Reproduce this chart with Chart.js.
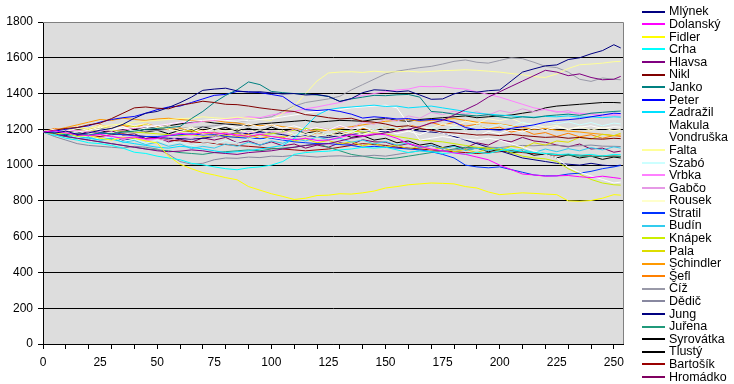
<!DOCTYPE html>
<html><head><meta charset="utf-8">
<script src="https://cdn.jsdelivr.net/npm/chart.js@4/dist/chart.umd.min.js"></script>
<style>
html,body{margin:0;padding:0;background:#fff;}
#wrap{position:relative;width:734px;height:384px;}
#legend{position:absolute;left:642px;top:5.4px;font-family:"Liberation Sans",Arial,sans-serif;font-size:12.5px;color:#000;}
.row{display:flex;align-items:center;height:12.6px;line-height:12.6px;white-space:nowrap;}
.sw{width:23px;height:2px;margin-right:4px;}
</style></head><body>
<div id="wrap"><canvas id="c" width="734" height="384"></canvas><div id="legend"></div></div>
<script>
const xs = [0,5,10,15,20,25,30,35,40,45,50,55,60,65,70,75,80,85,90,95,100,105,110,115,120,125,130,135,140,145,150,155,160,165,170,175,180,185,190,195,200,205,210,215,220,225,230,235,240,245,250,253];
const yTicks = [0,200,400,600,800,1000,1200,1400,1600,1800];
const xLabels = [0,25,50,75,100,125,150,175,200,225,250];
const names = ["Mlýnek","Dolanský","Fidler","Crha","Hlavsa","Nikl","Janko","Peter","Zadražil","Makula","Vondruška","Falta","Szabó","Vrbka","Gabčo","Rousek","Stratil","Budín","Knápek","Pala","Schindler","Šefl","Číž","Dědič","Jung","Juřena","Syrovátka","Tlustý","Bartošík","Hromádko"];
const colors = ["#000080","#FF00FF","#FFFF00","#00FFFF","#800080","#800000","#008080","#0000FF","#00E0FF","#FFFFFF","#FFFFFF","#FFFF99","#CCFFFF","#FF80FF","#E699E6","#FFFFCC","#0033FF","#33CCEE","#CCEE00","#DDDD00","#FF9900","#FF8000","#9999A8","#8888A0","#000080","#20997A","#000000","#000000","#990000","#800060"];

const mlynek = [1185,1178,1190,1172,1180,1195, 1205,1228,1262,1290,1300, 1322,1349,1380,1418,1425, 1430,1415,1408,1410,1404, 1398,1400,1392,1395,1384, 1356,1372,1405,1421,1418, 1410,1415,1392,1368,1370, 1398,1414,1408,1416,1420, 1470,1520,1538,1555,1560, 1590,1600,1622,1640,1673,1655];
const dolansky = [1185,1192,1180,1170,1165,1172, 1160,1150,1158,1145,1150, 1165,1178,1170,1182,1180, 1175,1168,1160,1172,1160, 1150,1142,1150,1138,1140, 1155,1170,1162,1175,1170, 1150,1120,1105,1090,1080, 1068,1060,1045,1030,1000, 975,950,945,938,940, 942,935,930,938,930,925];
const fidler = [1185,1175,1180,1160,1165,1150, 1140,1155,1150,1135,1124, 1050,1005,980,958,945, 930,918,880,860,840, 825,808,815,830,832, 840,838,845,855,872, 880,890,895,900,898, 895,880,872,850,835, 840,845,842,838,835, 800,798,802,815,835,832];
const crha = [1185,1170,1150,1140,1125,1120, 1110,1095,1072,1065,1050, 1040,1030,1010,1002,990, 980,974,985,990,1000, 1020,1060,1070,1075,1078, 1085,1090,1100,1095,1100, 1085,1070,1080,1075,1065, 1070,1060,1072,1065,1080, 1090,1075,1070,1065,1058, 1062,1055,1060,1050,1060,1058];
const hlavsa = [1185,1175,1160,1150,1140,1130, 1120,1110,1100,1090,1080, 1075,1078,1085,1080,1070, 1065,1060,1070,1075,1080, 1090,1100,1110,1115,1120, 1135,1150,1160,1170,1180, 1190,1200,1215,1235,1250, 1280,1310,1340,1380,1410, 1440,1470,1500,1530,1520, 1500,1510,1490,1477,1480,1496];
const nikl = [1185,1195,1205,1210,1225,1235, 1260,1290,1320,1325,1318, 1315,1335,1345,1357,1350, 1340,1338,1330,1320,1312, 1305,1300,1282,1275,1265, 1258,1262,1245,1240,1230, 1215,1220,1205,1195,1185, 1180,1175,1168,1170,1165, 1172,1165,1160,1155,1158, 1150,1155,1148,1145,1150,1148];
const janko = [1185,1180,1170,1175,1168,1180, 1175,1185,1190,1200,1205, 1210,1216,1260,1300,1350, 1390,1421,1465,1450,1412, 1405,1400,1398,1392,1384, 1356,1370,1380,1390,1388, 1393,1395,1380,1300,1295, 1285,1280,1275,1282,1270, 1262,1270,1265,1275,1280, 1285,1278,1290,1295,1300,1302];
const peter = [1185,1190,1200,1210,1220,1240, 1255,1265,1272,1290,1310, 1325,1330,1350,1370,1390, 1395,1412,1410,1405,1395, 1384,1340,1310,1305,1310, 1300,1285,1263,1270,1265, 1258,1260,1250,1255,1254, 1240,1210,1198,1200,1195, 1205,1215,1225,1240,1250, 1254,1260,1270,1280,1290,1288];
const zadrazil = [1185,1180,1175,1160,1150,1140, 1145,1130,1120,1110,1100, 1095,1105,1100,1090,1080, 1070,1075,1080,1090,1100, 1110,1150,1216,1280,1310, 1320,1325,1330,1335,1328, 1330,1320,1325,1330,1320, 1310,1300,1290,1285,1280, 1275,1270,1268,1272,1270, 1275,1268,1270,1265,1270,1268];
const makula = [1185,1190,1180,1185,1195,1200, 1195,1205,1210,1215,1220, 1230,1240,1245,1250,1255, 1250,1245,1250,1255,1260, 1270,1280,1290,1300,1305, 1310,1320,1325,1330,1335, 1320,1230,1140,1150,1160, 1150,1145,1140,1150,1140, 1120,1100,1080,1060,1040, 990,960,940,920,900,905];
const vondruska = [1185,1200,1188,1205,1195,1212, 1198,1215,1190,1208,1222, 1200,1188,1204,1180,1205, 1222,1210,1230,1212,1228, 1205,1220,1198,1210,1195, 1222,1200,1215,1188,1198, 1175,1190,1170,1195,1178, 1165,1182,1160,1188,1175, 1198,1185,1210,1195,1215, 1198,1212,1220,1205,1215,1212];
const falta = [1185,1190,1200,1210,1205,1215, 1225,1230,1240,1245,1250, 1255,1260,1262,1270,1265, 1260,1268,1262,1255,1250, 1290,1328,1400,1470,1515, 1520,1522,1518,1525,1520, 1522,1525,1520,1524,1528, 1530,1533,1530,1525,1520, 1512,1505,1495,1490,1510, 1540,1561,1565,1570,1578,1580];
const szabo = [1185,1170,1178,1155,1162,1145, 1158,1132,1145,1122,1140, 1118,1130,1108,1125,1115, 1138,1125,1150,1138,1155, 1145,1172,1160,1185,1170, 1195,1182,1212,1198,1215, 1205,1225,1200,1210,1188, 1212,1198,1225,1208,1228, 1215,1240,1222,1245,1230, 1242,1225,1238,1220,1235,1230];
const vrbka = [1185,1180,1190,1195,1185,1190, 1200,1195,1205,1215,1220, 1230,1240,1235,1245,1250, 1255,1260,1270,1265,1280, 1290,1300,1315,1325,1338, 1350,1370,1390,1400,1410, 1420,1425,1440,1438,1440, 1430,1425,1410,1395,1380, 1360,1340,1320,1310,1300, 1295,1290,1285,1280,1282,1280];
const gabco = [1185,1172,1180,1160,1168,1150, 1165,1142,1155,1135,1148, 1138,1160,1148,1172,1158, 1180,1168,1188,1172,1190, 1178,1202,1188,1212,1198, 1218,1205,1240,1228,1258, 1245,1275,1262,1295,1282, 1302,1285,1298,1280,1305, 1292,1315,1298,1312,1295, 1305,1282,1290,1268,1278,1272];
const rousek = [1185,1200,1192,1215,1205,1222, 1210,1235,1220,1232,1210, 1222,1198,1212,1190,1205, 1188,1202,1180,1198,1185, 1195,1170,1182,1160,1175, 1165,1188,1172,1192,1175, 1200,1188,1215,1205,1230, 1218,1245,1232,1260,1248, 1262,1235,1228,1212,1222, 1200,1215,1195,1210,1192,1200];
const stratil = [1185,1180,1175,1170,1165,1180, 1175,1170,1165,1160,1160, 1165,1170,1175,1168,1170, 1160,1155,1150,1148,1150, 1140,1130,1125,1120,1120, 1115,1110,1100,1105,1100, 1095,1090,1085,1075,1060, 1040,1000,990,985,990, 975,960,945,940,940, 950,955,965,980,990,998];
const budin = [1185,1165,1172,1148,1155,1140, 1152,1128,1138,1115,1128, 1105,1118,1092,1105,1095, 1118,1105,1128,1112,1135, 1122,1148,1135,1158,1142, 1150,1128,1140,1118,1132, 1112,1125,1098,1112,1092, 1105,1082,1095,1080,1098, 1075,1088,1070,1090,1075, 1092,1080,1098,1085,1102,1095];
const knapek = [1185,1195,1200,1195,1190,1200, 1195,1190,1185,1180,1175, 1170,1165,1170,1160,1165, 1160,1155,1160,1170,1175, 1185,1195,1205,1200,1200, 1195,1190,1185,1180,1175, 1160,1150,1140,1135,1130, 1120,1110,1100,1095,1090, 1070,1050,1040,1035,1020, 980,950,920,900,890,888];
const pala = [1185,1195,1188,1208,1198,1212, 1205,1228,1215,1230,1212, 1205,1185,1195,1172,1185, 1165,1178,1155,1170,1152, 1160,1135,1148,1125,1138, 1118,1130,1108,1122,1100, 1112,1090,1105,1085,1098, 1075,1088,1070,1092,1082, 1105,1095,1125,1112,1135, 1128,1155,1145,1172,1165,1178];
const schindler = [1185,1195,1210,1225,1240,1255, 1250,1262,1255,1250,1258, 1262,1255,1250,1245,1250, 1240,1235,1225,1220,1225, 1215,1205,1195,1190,1195, 1205,1215,1225,1235,1245, 1250,1255,1245,1250,1255, 1260,1250,1240,1235,1230, 1220,1210,1200,1205,1195, 1190,1185,1178,1172,1165,1168];
const sefl = [1185,1205,1195,1215,1200,1225, 1210,1222,1205,1232,1215, 1198,1208,1185,1195,1170, 1182,1160,1172,1148,1160, 1152,1172,1158,1182,1170, 1192,1178,1205,1195,1215, 1200,1225,1210,1238,1222, 1240,1218,1228,1202,1212, 1185,1198,1172,1182,1160, 1178,1158,1170,1150,1165,1160];
const ciz = [1185,1180,1175,1185,1190,1180, 1175,1185,1180,1190,1195, 1200,1205,1210,1215,1220, 1230,1240,1250,1260,1270, 1300,1330,1350,1360,1370, 1385,1420,1450,1480,1510, 1525,1535,1545,1552,1565, 1580,1588,1575,1570,1585, 1600,1595,1575,1552,1545, 1520,1480,1468,1487,1480,1477];
const dedic = [1185,1160,1140,1120,1110,1105, 1100,1095,1105,1100,1090, 1060,1020,1005,1010,1030, 1040,1038,1045,1042,1050, 1048,1055,1050,1045,1050, 1052,1048,1050,1055,1050, 1060,1070,1080,1075,1080, 1085,1090,1095,1100,1098, 1105,1110,1108,1112,1110, 1105,1108,1112,1106,1105,1104];
const jung = [1185,1175,1165,1170,1160,1150, 1145,1140,1150,1160,1155, 1150,1148,1145,1150,1160, 1170,1180,1175,1185,1180, 1170,1160,1165,1160,1155, 1165,1170,1180,1190,1185, 1195,1200,1190,1185,1180, 1160,1140,1120,1100,1080, 1060,1040,1030,1020,1010, 1005,1000,1010,1000,995,1000];
const jurena = [1185,1170,1160,1150,1140,1130, 1120,1110,1100,1090,1085, 1080,1070,1065,1060,1070, 1075,1080,1085,1080,1090, 1095,1100,1110,1120,1100, 1080,1060,1050,1040,1035, 1040,1050,1060,1070,1080, 1090,1100,1095,1090,1085, 1080,1075,1070,1065,1060, 1055,1050,1048,1052,1050,1048];
const syrovatka = [1185,1190,1195,1200,1205,1210, 1200,1195,1205,1210,1215, 1220,1230,1240,1245,1235, 1230,1225,1220,1230,1235, 1240,1245,1250,1240,1245, 1250,1248,1245,1255,1260, 1250,1245,1255,1260,1265, 1270,1275,1265,1270,1275, 1280,1290,1300,1320,1330, 1335,1340,1345,1350,1350,1348];
const tlusty = [1185,1172,1190,1180,1200,1182, 1198,1188,1205,1185,1195, 1175,1195,1188,1215,1198, 1210,1190,1205,1188,1212, 1192,1200,1178,1190,1165, 1180,1155,1165,1140,1150, 1125,1135,1112,1122,1098, 1110,1085,1095,1075,1088, 1068,1078,1055,1062,1040, 1058,1040,1050,1032,1045,1040];
const bartosik = [1185,1175,1180,1170,1165,1160, 1170,1175,1165,1160,1150, 1140,1135,1130,1125,1120, 1115,1110,1105,1100,1095, 1090,1085,1080,1085,1090, 1100,1110,1120,1115,1110, 1100,1095,1090,1085,1080, 1075,1070,1065,1070,1075, 1080,1070,1065,1060,1055, 1060,1055,1050,1048,1050,1049];
const hromadko = [1185,1175,1182,1165,1190,1178, 1192,1168,1175,1148,1155, 1130,1145,1128,1152,1140, 1155,1125,1135,1112,1130, 1108,1118,1095,1112,1100, 1125,1115,1142,1130,1128, 1108,1120,1098,1110,1090, 1108,1095,1125,1112,1142, 1130,1155,1135,1128,1112, 1102,1118,1090,1095,1072,1078];

const series = [mlynek,dolansky,fidler,crha,hlavsa,nikl,janko,peter,zadrazil,makula,vondruska,falta,szabo,vrbka,gabco,rousek,stratil,budin,knapek,pala,schindler,sefl,ciz,dedic,jung,jurena,syrovatka,tlusty,bartosik,hromadko];

const datasets = series.map((arr, i) => ({
  label: names[i],
  data: arr.map((v, j) => ({x: xs[j], y: v})),
  borderColor: colors[i],
  backgroundColor: colors[i],
  borderWidth: 1,
  pointRadius: 0,
  tension: 0,
  fill: false
}));

const plotBg = {
  id: 'plotBg',
  beforeDraw(chart) {
    const {ctx, chartArea: a} = chart;
    ctx.save();
    ctx.fillStyle = '#DDDDDD';
    ctx.fillRect(a.left, a.top, a.right - a.left, a.bottom - a.top);
    ctx.restore();
  },
  afterDatasetsDraw(chart) {
    const {ctx, chartArea: a} = chart;
    ctx.save();
    ctx.strokeStyle = '#808080';
    ctx.lineWidth = 1;
    ctx.beginPath();
    ctx.moveTo(a.left, Math.round(a.top) + 0.5);
    ctx.lineTo(Math.round(a.right) + 0.5, Math.round(a.top) + 0.5);
    ctx.lineTo(Math.round(a.right) + 0.5, a.bottom);
    ctx.stroke();
    ctx.restore();
  }
};

const font = {family: '"Liberation Sans", Arial, sans-serif', size: 12};

new Chart(document.getElementById('c'), {
  type: 'line',
  data: {datasets},
  plugins: [plotBg],
  options: {
    responsive: false,
    animation: false,
    layout: {padding: {top: 22, right: 111, left: 0, bottom: 0}},
    plugins: {legend: {display: false}, tooltip: {enabled: false}},
    scales: {
      x: {
        type: 'linear', min: 0, max: 254,
        afterFit: s => { s.height = 40; },
        afterBuildTicks: s => { s.ticks = []; for (let v = 0; v <= 250; v += 5) s.ticks.push({value: v}); },
        ticks: {
          autoSkip: false, maxRotation: 0, color: '#000', font, padding: 6,
          callback: v => xLabels.includes(v) ? String(v) : ''
        },
        grid: {drawOnChartArea: false, tickLength: 5, tickColor: c => (c.tick && c.tick.value % 10 === 0) ? '#000' : 'rgba(0,0,0,0)'},
        border: {color: '#000', width: 1}
      },
      y: {
        min: 0, max: 1800,
        afterFit: s => { s.width = 43; },
        afterBuildTicks: s => { s.ticks = yTicks.map(v => ({value: v})); },
        ticks: {color: '#000', font, padding: 5, callback: v => String(v)},
        grid: {color: c => (c.tick && c.tick.value === 1800) ? '#808080' : '#000', lineWidth: 1, tickLength: 5, tickColor: '#000'},
        border: {color: '#000', width: 1}
      }
    }
  }
});

const leg = document.getElementById('legend');
names.forEach((n, i) => {
  const r = document.createElement('div'); r.className = 'row';
  const sw = document.createElement('div'); sw.className = 'sw'; sw.style.background = colors[i];
  const t = document.createElement('span'); t.textContent = n;
  r.appendChild(sw); r.appendChild(t); leg.appendChild(r);
});
</script>
</body></html>
